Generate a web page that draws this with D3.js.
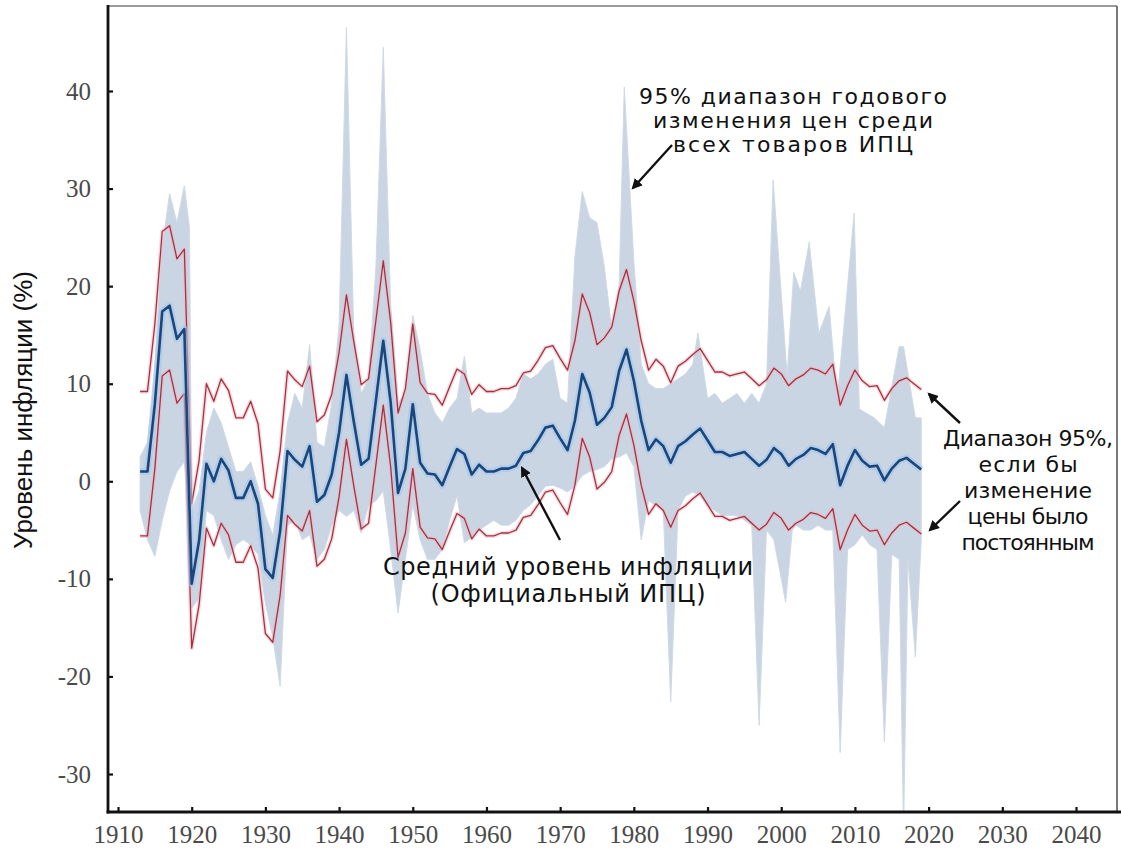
<!DOCTYPE html>
<html><head><meta charset="utf-8">
<script src="https://cdn.jsdelivr.net/npm/d3@7"></script>
<style>body{margin:0;background:#fff}svg{display:block}</style>
</head><body>
<svg id="chart" width="1121" height="849"></svg>
<script>
// ---- data ----
const years = d3.range(1913, 2020);
const meanInflation = [1.0,1.0,7.9,17.4,18.0,14.6,15.6,-10.5,-6.1,1.8,0.0,2.3,1.1,-1.7,-1.7,0.0,-2.3,-9.0,-9.9,-5.1,
 3.1,2.2,1.5,3.6,-2.1,-1.4,0.7,5.0,10.9,6.1,1.7,2.3,8.3,14.4,8.1,-1.2,1.3,7.9,1.9,0.8,0.7,-0.4,1.5,3.3,2.8,0.7,
 1.7,1.0,1.0,1.3,1.3,1.6,2.9,3.1,4.2,5.5,5.7,4.4,3.2,6.2,11.0,9.1,5.8,6.5,7.6,11.3,13.5,10.3,6.2,3.2,4.3,3.6,
 1.9,3.6,4.1,4.8,5.4,4.2,3.0,3.0,2.6,2.8,3.0,2.3,1.6,2.2,3.4,2.8,1.6,2.3,2.7,3.4,3.2,2.8,3.8,-0.4,1.6,3.2,2.1,
 1.5,1.6,0.1,1.3,2.1,2.4,1.8,1.2];
const upper95 = [9.2,9.2,16.1,25.6,26.2,22.8,23.8,-2.3,2.1,10.0,8.2,10.5,9.3,6.5,6.5,8.2,5.9,-0.8,-1.7,3.1,
 11.3,10.4,9.7,11.8,6.1,6.8,8.9,13.2,19.1,14.3,9.9,10.5,16.5,22.6,16.3,7.0,9.5,16.1,10.1,9.0,8.9,7.8,9.7,11.5,11.0,8.9,
 9.9,9.2,9.2,9.5,9.5,9.8,11.1,11.3,12.4,13.7,13.9,12.6,11.4,14.4,19.2,17.3,14.0,14.7,15.8,19.5,21.7,18.5,14.4,11.4,12.5,11.8,
 10.1,11.8,12.3,13.0,13.6,12.4,11.2,11.2,10.8,11.0,11.2,10.5,9.8,10.4,11.6,11.0,9.8,10.5,10.9,11.6,11.4,11.0,12.0,7.8,9.8,11.4,10.3,
 9.7,9.8,8.3,9.5,10.3,10.6,10.0,9.4];
const lower95 = [-5.6,-5.6,1.3,10.8,11.4,8.0,9.0,-17.1,-12.7,-4.8,-6.6,-4.3,-5.5,-8.3,-8.3,-6.6,-8.9,-15.6,-16.5,-11.7,
 -3.5,-4.4,-5.1,-3.0,-8.7,-8.0,-5.9,-1.6,4.3,-0.5,-4.9,-4.3,1.7,7.8,1.5,-7.8,-5.3,1.3,-4.7,-5.8,-5.9,-7.0,-5.1,-3.3,-3.8,-5.9,
 -4.9,-5.6,-5.6,-5.3,-5.3,-5.0,-3.7,-3.5,-2.4,-1.1,-0.9,-2.2,-3.4,-0.4,4.4,2.5,-0.8,-0.1,1.0,4.7,6.9,3.7,-0.4,-3.4,-2.3,-3.0,
 -4.7,-3.0,-2.5,-1.8,-1.2,-2.4,-3.6,-3.6,-4.0,-3.8,-3.6,-4.3,-5.0,-4.4,-3.2,-3.8,-5.0,-4.3,-3.9,-3.2,-3.4,-3.8,-2.8,-7.0,-5.0,-3.4,-4.5,
 -5.1,-5.0,-6.5,-5.3,-4.5,-4.2,-4.8,-5.4];
const bandUpperYears = [1913,1914,1915,1916,1917,1918,1919,1919.7,1920,1921,1922,1923,1924,1925,1926,1927,1928,1929,1930,1931,
 1932,1933,1934,1935,1936,1937,1938,1939,1940,1941,1942,1943,1944,1945,1946,1947,1948,1949,1950,1951,1952,1953,1954,1955,1956,
 1957,1958,1959,1960,1961,1962,1963,1964,1965,1966,1967,1968,1969,1970,1971,1972,1973,1974,1975,1976,1977,1978,1978.7,1980,1981,
 1982,1983,1984,1985,1986,1987,1988,1988.7,1990,1991,1992,1993,1994,1995,1996,1997,1998,1998.9,2000.8,2001.7,2002.6,2003.8,2005.1,
 2006.5,2007.6,2009.9,2010.6,2012.6,2014,2016,2016.6,2018.2,2019];
const bandUpperValues = [2.5,4,12,24,29.5,26.5,30.3,26,-3,-1,5,7.5,6,3.5,1,1,2,-0.5,-3.5,-5.5,
 -1,6,9,7.5,14,4,3.5,8,16,46.5,15,9,10.5,22,44.5,18,8,9,17,13.5,9,7,6,7.5,8.5,
 12.8,7,7.5,7,7,7,7.5,8.5,11,10.5,11,12,12.5,8.5,8,23,29.7,27,26.5,22,15.5,20,40.4,22.5,12,
 10,9.5,9.5,10,10.5,11,12,15.2,8.5,9,8,8.5,9,8,9,8,10,30.9,10.8,21.4,19.5,24.5,15.2,
 17.9,8.4,27.5,7.4,6.5,5.5,13.8,13.8,6.5,6.5];
const bandLowerYears = [1913,1914,1915,1916,1917,1918,1919,1919.7,1920,1921,1922,1923,1924,1925,1926,1927,1928,1929,1930,1931,
 1932,1933,1934,1935,1936,1937,1938,1939,1940,1941,1942,1943,1944,1945,1946,1947,1948,1949,1950,1951,1952,1953,1954,1955,1956,
 1957,1958,1959,1960,1961,1962,1963,1964,1965,1966,1967,1968,1969,1970,1971,1972,1973,1974,1975,1976,1977,1978,1979,1980,1981,
 1982,1983,1984,1985,1986,1987,1988,1989,1990,1991,1992,1993,1994,1995,1996,1997,1998,1999,2000.6,2001.5,2002,2003,2004,2005,
 2006,2007,2008,2009,2010,2011,2012,2013,2014,2015,2016,2016.6,2017.2,2018.2,2019];
const bandLowerValues = [-3,-6,-7.7,-4,-1,1,2,-3,-13,-12,-3,-3.5,-6,-8,-6.5,-6,-6.5,-7.5,-12.5,-16,
 -21,-4.5,-4,-6,-5.5,-8,-7,-4.5,-3,-3.6,-3,-5.3,-2.5,-2,-1,-7,-13.5,-8,-2.4,-6,-8,-8,-7,-4,-1.5,
 -6.3,-5.7,-5,-4.5,-4,-4.5,-4.5,-4,-3,-2.4,-1.5,-0.5,-0.4,-0.7,-1.1,-0.5,0.6,1,1.2,1.5,2.3,2.5,2.9,1.5,-6,
 -2,-2.5,-3,-22.6,-3,-1.5,-1.1,-1.5,-2.5,-3,-3.5,-3.5,-3.5,-4,-4.5,-25,-5,-6,-12.4,-5,-4.5,-5,-5,-4.5,
 -5,-5,-27.8,-7,-6.5,-5.5,-6.5,-7,-26.7,-7.5,-8,-36,-8,-18,-6];
const xTicks = [1910,1920,1930,1940,1950,1960,1970,1980,1990,2000,2010,2020,2030,2040];
const yTicks = [-30,-20,-10,0,10,20,30,40];

// ---- drawing ----
const svg = d3.select('#chart');
const P = {left:108, right:1117, top:6, bottom:812};
const x = d3.scaleLinear().domain([1910, 2040]).range([118, 1076]);
const y = d3.scaleLinear().domain([-30, 40]).range([774, 91]);

const defs = svg.append('defs');
defs.append('clipPath').attr('id','clip')
  .append('rect').attr('x',P.left).attr('y',P.top).attr('width',P.right-P.left).attr('height',P.bottom-P.top);

const g = svg.append('g').attr('clip-path','url(#clip)');

// band
const bandPts = bandUpperYears.map((yr,i)=>[x(yr), y(bandUpperValues[i])])
  .concat(bandLowerYears.map((yr,i)=>[x(yr), y(bandLowerValues[i])]).reverse());
g.append('path').attr('d', d3.line()(bandPts) + 'Z')
  .attr('fill','#c9d5e3').attr('stroke','#d0dae6').attr('stroke-width',1);

const line = d3.line().x((d,i)=>x(years[i])).y(d=>y(d));

[upper95, lower95].forEach(arr=>{
  g.append('path').attr('d', line(arr)).attr('fill','none')
    .attr('stroke','#f4b3b9').attr('stroke-opacity',0.5).attr('stroke-width',4).attr('stroke-linejoin','round');
  g.append('path').attr('d', line(arr)).attr('fill','none')
    .attr('stroke','#9e3447').attr('stroke-width',1.3).attr('stroke-linejoin','round');
});
g.append('path').attr('d', line(meanInflation)).attr('fill','none')
  .attr('stroke','#a3c6ec').attr('stroke-opacity',0.6).attr('stroke-width',7).attr('stroke-linejoin','round');
g.append('path').attr('d', line(meanInflation)).attr('fill','none')
  .attr('stroke','#1a4679').attr('stroke-width',2.6).attr('stroke-linejoin','round');

// frame
svg.append('line').attr('x1',P.left).attr('x2',P.right).attr('y1',P.top).attr('y2',P.top)
  .attr('stroke','#7a7a7a').attr('stroke-width',1.6);
svg.append('line').attr('x1',P.right).attr('x2',P.right).attr('y1',P.top).attr('y2',P.bottom)
  .attr('stroke','#5a5a5a').attr('stroke-width',1.6);

// axes
const gy = svg.append('g').attr('transform',`translate(${P.left},0)`)
  .call(d3.axisLeft(y).tickValues(yTicks).tickSize(-5).tickPadding(17).tickFormat(d=>String(d)));
const gx = svg.append('g').attr('transform',`translate(0,${P.bottom})`)
  .call(d3.axisBottom(x).tickValues(xTicks).tickSize(-5).tickPadding(13).tickFormat(d=>String(d)));
[gy,gx].forEach(a=>{
  a.select('.domain').remove();
  a.selectAll('.tick line').attr('stroke','#111').attr('stroke-width',2.2);
  a.selectAll('.tick text').attr('fill','#4a4a4a').style('font-family','"Liberation Serif", serif').style('font-size','25px');
});
svg.append('line').attr('x1',P.left).attr('x2',P.left).attr('y1',P.top-1).attr('y2',P.bottom+1.5)
  .attr('stroke','#111').attr('stroke-width',2.8);
svg.append('line').attr('x1',P.left-1.4).attr('x2',1121).attr('y1',P.bottom).attr('y2',P.bottom)
  .attr('stroke','#111').attr('stroke-width',2.8);

// y label
svg.append('text').attr('transform','translate(32,410) rotate(-90)')
  .attr('text-anchor','middle').attr('fill','#111')
  .style('font-family','"Liberation Sans", Arial, sans-serif').style('font-size','26px')
  .text('Уровень инфляции (%)');

// annotations
defs.append('marker').attr('id','arrow').attr('viewBox','0 0 10 10').attr('refX',8).attr('refY',5)
  .attr('markerWidth',4.5).attr('markerHeight',4.5).attr('orient','auto')
  .append('path').attr('d','M0,0 L10,5 L0,10 Z').attr('fill','#111');

function block(lines, cx, baselines, widths, size){
  lines.forEach((s,i)=>{
    svg.append('text').attr('x',cx).attr('y',baselines[i]).attr('text-anchor','middle').attr('fill','#111')
      .attr('textLength',widths[i]).attr('lengthAdjust','spacing')
      .style('font-family','"DejaVu Sans", sans-serif').style('font-size',size+'px')
      .text(s);
  });
}
block(['95% диапазон годового','изменения цен среди','всех товаров ИПЦ'], 793, [104,128,152], [308,280,240], 22);
block(['Средний уровень инфляции','(Официальный ИПЦ)'], 568, [575,602], [370,275], 24);
block(['Диапазон 95%,','если бы','изменение','цены было','постоянным'], 1028, [446,472,498,524,550], [170,99,128,121,133], 22);

function arrow(x1,y1,x2,y2){
  svg.append('line').attr('x1',x1).attr('y1',y1).attr('x2',x2).attr('y2',y2)
    .attr('stroke','#111').attr('stroke-width',2.4).attr('marker-end','url(#arrow)');
}
arrow(672,145,633,188);
arrow(560,540,522,468);
arrow(960,423,929,394);
arrow(960,501,930,530);
</script>
</body></html>
